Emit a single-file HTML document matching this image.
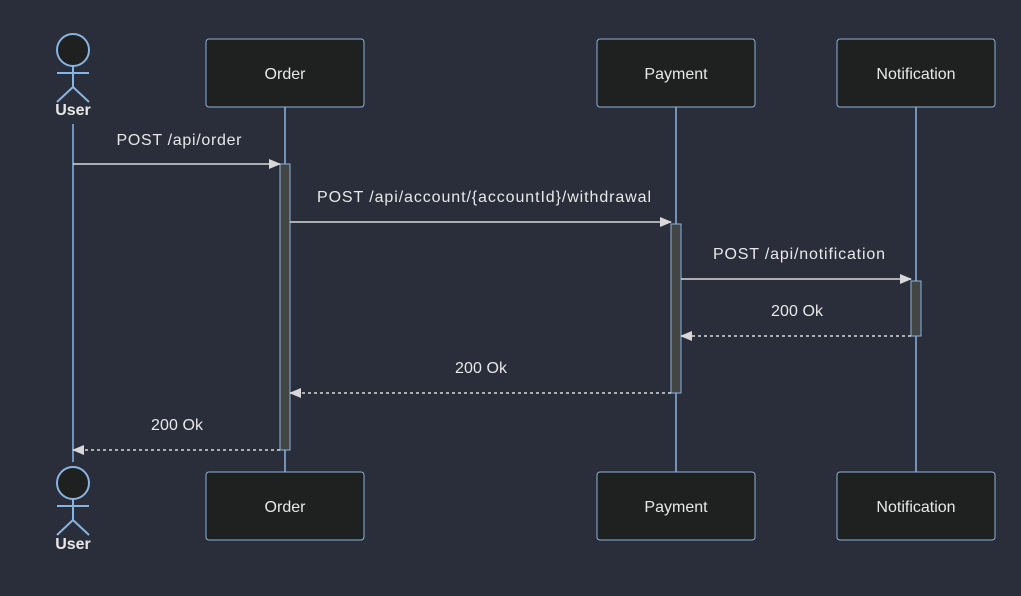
<!DOCTYPE html>
<html><head><style>body{margin:0;background:#2a2e3a}svg{display:block}</style></head><body>
<svg width="1021" height="596" xmlns="http://www.w3.org/2000/svg" font-family="Liberation Sans, sans-serif">
<rect width="1021" height="596" fill="#2a2e3a"/>
<defs><marker id="a" markerWidth="12" markerHeight="10" refX="11" refY="5" orient="auto" markerUnits="userSpaceOnUse"><path d="M0,0L12,5L0,10z" fill="#d8d8d8"/></marker></defs>
<g stroke="#89b4e0" stroke-width="1.5">
<line x1="73" y1="124" x2="73" y2="462"/>
<line x1="285" y1="107" x2="285" y2="472"/>
<line x1="676" y1="107" x2="676" y2="472"/>
<line x1="916" y1="107" x2="916" y2="472"/>
</g>
<g fill="#1f2020" stroke="#89b4e0" stroke-width="1">
<rect x="206" y="39" width="158" height="68" rx="3"/>
<rect x="597" y="39" width="158" height="68" rx="3"/>
<rect x="837" y="39" width="158" height="68" rx="3"/>
<rect x="206" y="472" width="158" height="68" rx="3"/>
<rect x="597" y="472" width="158" height="68" rx="3"/>
<rect x="837" y="472" width="158" height="68" rx="3"/>
</g>
<g fill="#e8e8e8" font-size="16" text-anchor="middle">
<text x="285" y="79">Order</text><text x="676" y="79">Payment</text><text x="916" y="79">Notification</text>
<text x="285" y="512">Order</text><text x="676" y="512">Payment</text><text x="916" y="512">Notification</text>
</g>
<g stroke="#89b4e0" stroke-width="2" fill="none">
<circle cx="73" cy="50" r="16" fill="#1f2020"/>
<path d="M73,66V87M57,73H89M73,87L57,102M73,87L89,102"/>
<circle cx="73" cy="483" r="16" fill="#1f2020"/>
<path d="M73,499V520M57,506H89M73,520L57,535M73,520L89,535"/>
</g>
<g fill="#e8e8e8" font-size="16" text-anchor="middle" font-weight="bold">
<text x="73" y="115">User</text><text x="73" y="549">User</text>
</g>
<g fill="#434543" stroke="#89b4e0" stroke-width="1">
<rect x="280" y="164" width="10" height="286"/>
<rect x="671" y="224" width="10" height="169"/>
<rect x="911" y="281" width="10" height="55"/>
</g>
<g stroke="#d8d8d8" stroke-width="1.5" marker-end="url(#a)">
<line x1="73" y1="164" x2="280" y2="164"/>
<line x1="290" y1="222" x2="671" y2="222"/>
<line x1="681" y1="279" x2="911" y2="279"/>
<line x1="911" y1="336" x2="681" y2="336" stroke-dasharray="3,3"/>
<line x1="671" y1="393" x2="290" y2="393" stroke-dasharray="3,3"/>
<line x1="280" y1="450" x2="73" y2="450" stroke-dasharray="3,3"/>
</g>
<g fill="#e8e8e8" font-size="16" text-anchor="middle">
<text x="179" y="145" textLength="125">POST /api/order</text>
<text x="484" y="202" textLength="334">POST /api/account/{accountId}/withdrawal</text>
<text x="799" y="259" textLength="172">POST /api/notification</text>
<text x="797" y="316" textLength="52">200 Ok</text>
<text x="481" y="373" textLength="52">200 Ok</text>
<text x="177" y="430" textLength="52">200 Ok</text>
</g>
</svg>
</body></html>
